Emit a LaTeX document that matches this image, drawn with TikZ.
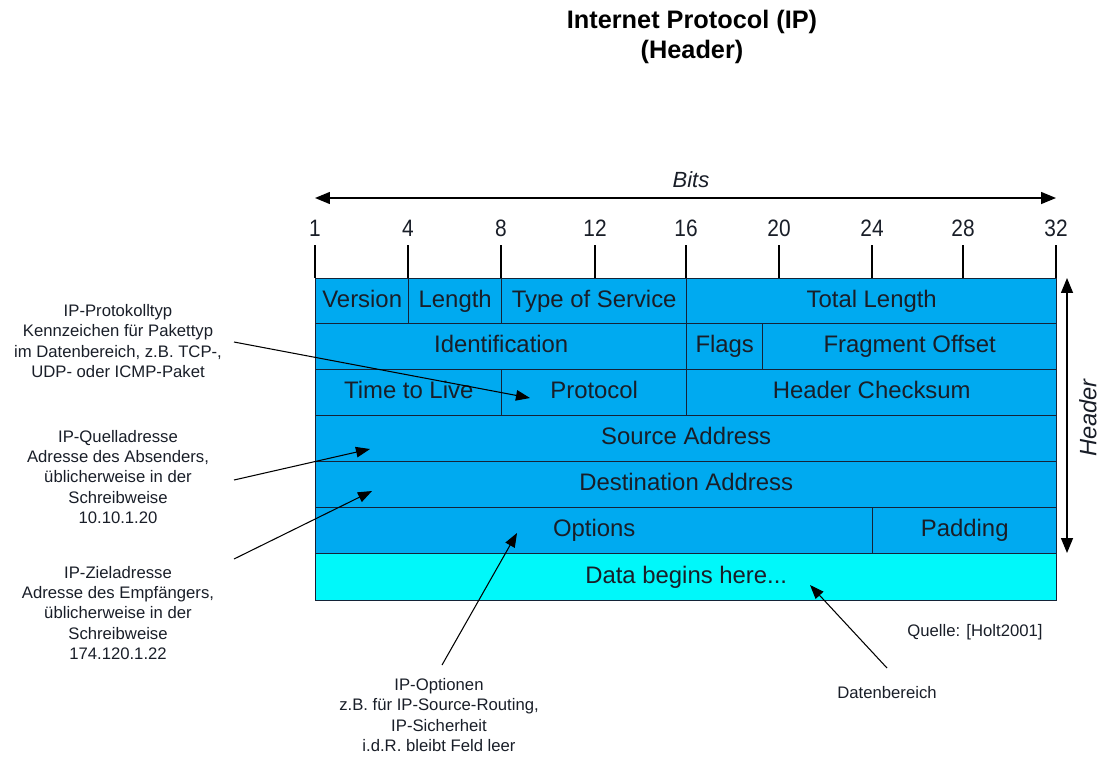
\documentclass[tikz,border=0pt]{standalone}
\usepackage{fontspec}
\setmainfont{Liberation Sans}
\usetikzlibrary{arrows.meta}
\definecolor{hdr}{RGB}{0,170,240}
\definecolor{dat}{RGB}{0,248,250}
\definecolor{linec}{RGB}{20,35,55}
\definecolor{txt}{RGB}{25,30,40}
\newcommand{\fld}[7][hdr]{\node[field, fill=#1, minimum width={(#5-#3)*0.02cm}, minimum height={(#6-#4)*0.02cm}, anchor=north west] (#2) at (#3,#4) {#7};}
\tikzset{
  field/.style={draw=linec, line width=0.8pt, inner sep=0pt, text=txt, font=\fontsize{13.6}{16}\selectfont, text height=0.82em, text depth=0.12em},
  note/.style={align=center, text=txt, font=\fontsize{9.5}{11.6}\selectfont, inner sep=0pt},
  tick/.style={line width=0.6pt, draw=black},
  ticklab/.style={font=\fontsize{13.5}{15}\selectfont, text=txt, inner sep=0pt, xscale=0.88},
  pointer/.style={line width=0.6pt, -{Triangle[length=8pt,width=6pt]}},
  dim/.style={line width=0.8pt, {Triangle[length=8.5pt,width=6.8pt]}-{Triangle[length=8.5pt,width=6.8pt]}},
}
\begin{document}
\begin{tikzpicture}[x=0.02cm,y=-0.02cm]
\useasboundingbox (0,0) rectangle (1104,758);
% title
\node[font=\bfseries\fontsize{14.4}{17}\selectfont] (t1) at (692,22) {Internet Protocol (IP)};
\node[font=\bfseries\fontsize{14.4}{17}\selectfont] (t2) at (692,52) {(Header)};
% bits
\coordinate (bl) at (315,198);
\coordinate (br) at (1056,198);
\draw[dim] (bl) -- (br);
\node[inner sep=0pt, text=txt, font=\itshape\fontsize{12.5}{14}\selectfont] (bits) at (691,180) {Bits};
\foreach \x/\l in {315/1,408/4,501/8,595/12,686/16,779/20,872/24,963/28,1056/32}{
  \coordinate (ta\l) at (\x,245);
  \coordinate (tb\l) at (\x,278);
  \draw[tick] (ta\l) -- (tb\l);
  \node[ticklab] (tl\l) at (\x,228) {\l};
}
% fields
\fld{ver}{315}{278}{408}{323}{Version}
\fld{len}{408}{278}{501}{323}{Length}
\fld{tos}{501}{278}{686}{323}{Type of Service}
\fld{tl}{686}{278}{1056}{323}{Total Length}
\fld{ident}{315}{323}{686}{369}{Identification}
\fld{flags}{686}{323}{762}{369}{Flags}
\fld{frag}{762}{323}{1056}{369}{Fragment Offset}
\fld{ttl}{315}{369}{501}{415}{Time to Live}
\fld{proto}{501}{369}{686}{415}{Protocol}
\fld{chk}{686}{369}{1056}{415}{Header Checksum}
\fld{src}{315}{415}{1056}{461}{Source Address}
\fld{dst}{315}{461}{1056}{507}{Destination Address}
\fld{opt}{315}{507}{872}{553}{Options}
\fld{pad}{872}{507}{1056}{553}{Padding}
\fld[dat]{data}{315}{553}{1056}{600}{Data begins here...}
% header dimension
\coordinate (ht) at (1067,278);
\coordinate (hb) at (1067,553);
\draw[dim] (ht) -- (hb);
\node[rotate=90, text=txt, font=\itshape\fontsize{13.5}{15}\selectfont, inner sep=0pt] (hlab) at (1088,418) {Header};
% annotations
\node[note] (n1) at (118,341) {IP-Protokolltyp\\Kennzeichen für Pakettyp\\im Datenbereich, z.B. TCP-,\\UDP- oder ICMP-Paket};
\node[note] (n2) at (118,477) {IP-Quelladresse\\Adresse des Absenders,\\üblicherweise in der\\Schreibweise\\10.10.1.20};
\node[note] (n3) at (118,613) {IP-Zieladresse\\Adresse des Empfängers,\\üblicherweise in der\\Schreibweise\\174.120.1.22};
\node[note] (n4) at (439,715) {IP-Optionen\\z.B. für IP-Source-Routing,\\IP-Sicherheit\\i.d.R. bleibt Feld leer};
\node[note] (n5) at (887,693) {Datenbereich};
\node[note] (q) at (975,632) {Quelle: [Holt2001]};
\coordinate (s1) at (234,342);
\coordinate (e1) at (530,398);
\coordinate (s2) at (234,480);
\coordinate (e2) at (370,449);
\coordinate (s3) at (234,559);
\coordinate (e3) at (372,491);
\coordinate (s4) at (442,665);
\coordinate (e4) at (517,533);
\coordinate (s5) at (887,668);
\coordinate (e5) at (810,585);
\draw[pointer] (s1) -- (e1);
\draw[pointer] (s2) -- (e2);
\draw[pointer] (s3) -- (e3);
\draw[pointer] (s4) -- (e4);
\draw[pointer] (s5) -- (e5);
\end{tikzpicture}
\end{document}
